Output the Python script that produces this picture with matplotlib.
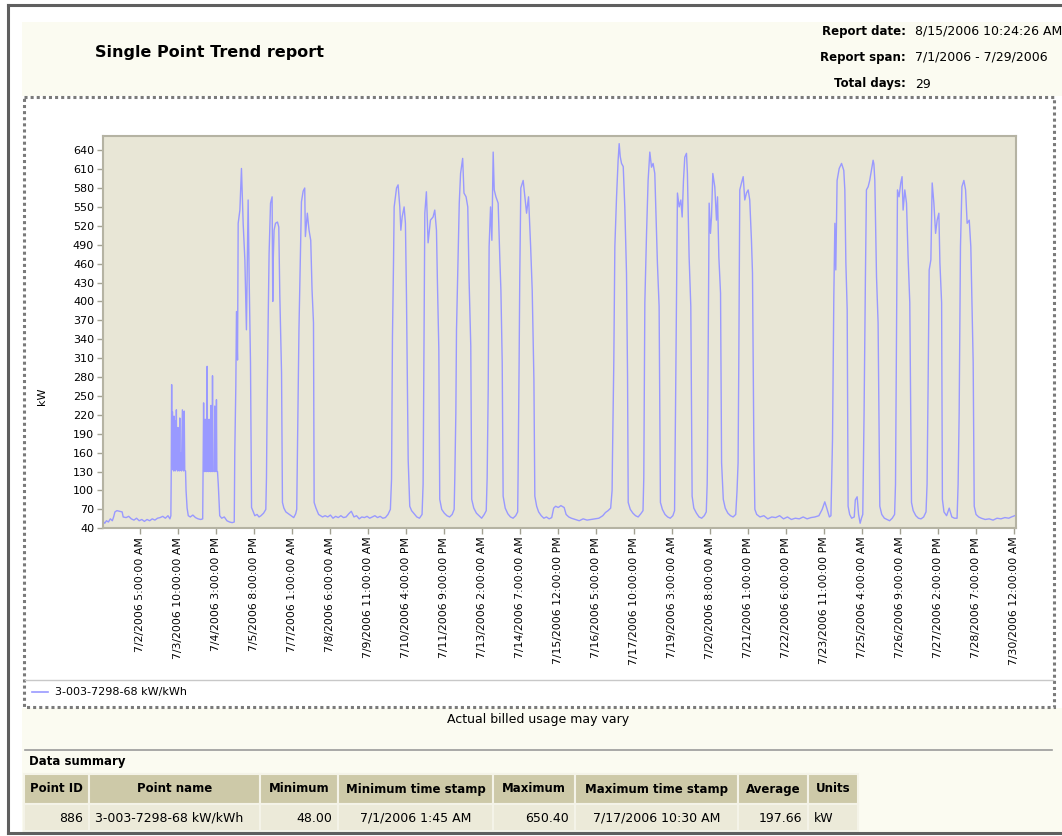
import numpy as np
import matplotlib
matplotlib.use('Agg')
import matplotlib.pyplot as plt
from matplotlib.patches import Rectangle
from datetime import datetime

# -------------------
# 1. DATA  (hours since 7/1/2006 0:00, kW) read off the trend
# -------------------
WEEK1 = [(0, 52), (1.75, 48), (3, 52), (4.5, 50), (6, 55), (7.5, 52), (8.5, 58), (9.5, 66), (11, 68), (13, 67),
         (15, 66), (15.8, 58), (18, 57), (20, 59), (22, 55), (24, 53), (26, 56), (28, 52), (30, 54), (32, 51),
         (34, 54), (36, 52), (38, 55), (40, 53), (42, 56), (44, 57), (46, 59), (48, 56), (50, 60), (51.5, 55),
         (52.2, 60), (52.5, 130), (52.8, 268), (53.1, 140), (53.4, 225), (53.7, 133), (54.0, 205), (54.3, 131),
         (54.6, 218), (54.9, 134), (55.2, 190), (55.5, 131), (55.8, 210), (56.1, 133), (56.4, 228), (56.7, 134),
         (57.0, 185), (57.3, 131), (57.6, 200), (57.9, 132), (58.2, 170), (58.6, 131), (59.0, 215), (59.3, 132),
         (59.8, 160), (60.3, 131), (61.0, 228), (61.4, 133), (62.0, 131), (62.4, 226), (62.8, 132), (63.4, 131),
         (63.8, 100), (64.6, 72), (65.5, 60), (67, 58), (69, 61), (71, 57), (73, 55), (75, 54), (76.5, 55),
         (76.8, 130), (77.2, 239), (77.5, 131), (78.1, 130), (78.4, 213), (78.7, 131), (79.6, 130), (79.9, 297),
         (80.2, 131), (81.1, 130), (81.4, 213), (81.7, 131), (82.5, 130), (82.8, 235), (83.1, 131), (83.7, 130),
         (84.0, 282), (84.3, 131), (85.4, 130), (85.7, 234), (86.0, 131), (86.7, 130), (87.0, 244), (87.3, 131),
         (87.8, 130), (88.4, 110), (89.5, 60), (91, 56), (93, 58), (95, 52), (97, 50), (99, 49), (100.6, 50),
         (101.0, 160), (101.8, 265), (102.3, 384), (103.1, 307), (103.6, 524), (104.9, 545), (106.1, 611),
         (107.4, 524), (108.7, 466), (109.9, 355), (111.2, 561), (112.0, 434), (113.0, 303), (113.8, 73),
         (116.3, 60), (118, 62), (119.5, 58), (121, 60), (123, 64), (124.7, 70),
         (125.2, 120), (125.7, 234), (126.5, 371), (127.2, 476), (128.3, 556), (129.5, 566), (130.0, 400),
         (130.3, 461), (131.0, 513), (132.1, 524), (133.6, 526), (134.6, 518), (135.4, 408), (136.7, 287),
         (137.4, 81), (138.5, 72), (140, 66), (142, 63), (144, 60), (146, 57), (147.5, 63), (148.3, 70),
         (148.6, 120), (149.3, 223), (150.0, 355), (151.1, 476), (151.9, 558), (153.2, 575), (154.4, 580),
         (154.9, 503), (156.4, 540), (157.7, 513), (159.0, 497), (160.0, 418), (161.1, 366), (161.6, 81),
         (163, 72), (165, 62), (168, 58)]

WEEK2 = [(170, 60), (172, 58), (174, 61), (176, 56), (178, 59), (180, 57), (182, 60), (184, 57), (186, 58),
         (188, 63), (190, 67), (192, 58), (194, 60), (196, 55), (198, 58), (200, 57), (202, 59), (204, 56),
         (206, 58), (208, 60), (210, 57), (212, 59), (214, 56), (216, 57), (218, 62), (219.8, 70),
         (220.7, 118), (221.4, 344), (222.2, 461), (222.7, 550), (224.5, 580), (225.7, 585), (227.0, 550),
         (227.8, 513), (228.8, 534), (230.3, 550), (231.3, 524), (232.1, 408), (233.4, 149), (234.6, 75),
         (236, 68), (238, 63), (240, 58), (242, 56), (244, 62),
         (244.8, 110), (245.3, 276), (246.1, 540), (247.3, 574), (248.6, 493), (250.4, 529), (252.4, 534),
         (253.7, 545), (255.0, 513), (255.7, 434), (256.8, 324), (257.5, 86), (259, 70), (261, 64), (263, 60),
         (265, 58), (267, 62), (268.5, 70),
         (269.0, 120), (269.8, 223), (270.3, 355), (271.6, 482), (272.4, 556), (273.4, 603), (275.0, 627),
         (276.0, 572), (277.6, 566), (278.9, 550), (279.9, 434), (281.2, 329), (281.9, 86), (283.5, 72),
         (285.5, 64), (287.5, 60), (289.5, 56), (291.5, 62), (293, 68),
         (293.7, 120), (294.5, 260), (295.2, 487), (296.3, 550), (297.3, 497), (298.3, 637), (299.1, 577),
         (300.4, 566), (302.1, 556), (303.4, 466), (304.2, 418), (305.2, 303), (305.9, 91), (307.5, 72),
         (309.5, 63), (311.5, 58), (313.5, 56), (315.5, 60), (317, 66),
         (317.3, 120), (318.1, 303), (318.6, 439), (319.4, 580), (321.2, 592), (322.5, 566), (323.8, 540),
         (325.3, 566), (326.9, 487), (328.1, 418), (329.4, 276), (330.1, 91), (331.5, 75), (333, 66), (335, 60)]

WEEK3 = [(337, 56), (339, 58), (341, 55), (343, 57), (344.5, 72), (346, 75), (348, 73), (350, 76), (352.5, 73),
         (354, 62), (356, 58), (358, 56), (361, 54), (364, 52), (367, 55), (370, 53), (373, 54), (376, 55),
         (379, 56), (382, 60), (384, 65), (386, 68), (388, 72),
         (389.1, 100), (389.4, 154), (390.4, 303), (391.2, 487), (392.5, 566), (393.7, 624), (394.5, 650.4),
         (395.3, 630), (396.3, 619), (397.6, 614), (398.8, 550), (400.1, 445), (400.9, 281), (401.4, 81),
         (403, 70), (405, 64), (407, 60), (409, 58), (411, 63), (412.7, 68),
         (413.3, 120), (413.6, 223), (414.1, 398), (415.4, 508), (416.6, 592), (417.9, 637), (419.2, 613),
         (420.4, 619), (421.7, 603), (422.7, 534), (423.7, 461), (425.0, 392), (426.0, 81), (427.5, 70),
         (429.5, 62), (431.5, 58), (433.5, 56), (435.5, 60), (436.8, 68),
         (437.0, 120), (437.5, 223), (438.3, 408), (439.0, 572), (440.3, 550), (441.6, 561), (442.6, 534),
         (443.6, 592), (444.6, 629), (445.9, 635), (446.6, 603), (447.9, 471), (449.2, 392), (450.2, 91),
         (451.5, 72), (453.5, 64), (455.5, 58), (457.5, 56), (459.5, 60), (461, 66),
         (461.7, 110), (461.9, 144), (462.4, 307), (463.2, 556), (464.2, 508), (465.0, 534), (466.0, 603),
         (467.5, 582), (468.8, 529), (469.6, 566), (470.6, 471), (471.9, 413), (472.7, 144), (474.0, 86),
         (475.5, 72), (477.5, 64), (479.5, 60), (481.5, 58), (483.5, 62),
         (484.5, 100), (485.3, 144), (485.8, 292), (486.6, 577), (487.9, 588), (489.2, 598), (490.4, 561),
         (491.7, 572), (493.0, 577), (494.2, 561), (495.5, 497), (496.3, 445), (497.3, 181), (498.1, 70),
         (499.5, 62), (502, 58)]

WEEK4 = [(505, 60), (508, 55), (511, 58), (514, 57), (517, 60), (520, 55), (523, 58), (526, 54), (529, 56),
         (532, 55), (535, 58), (538, 55), (541, 57), (544, 58), (547, 60), (549.5, 70), (551.5, 82), (553, 72),
         (555, 58), (556.2, 60),
         (556.6, 100), (557.4, 181), (558.4, 408), (559.2, 524), (559.9, 450), (560.9, 592), (562.5, 611),
         (564.3, 619), (566.0, 608), (566.8, 577), (567.6, 461), (568.6, 387), (569.3, 75), (570.5, 62),
         (572, 56), (574, 58), (574.8, 85), (576.2, 90), (577.3, 62), (578.5, 48), (579.5, 56), (580.5, 62),
         (580.8, 110), (581.5, 223), (582.5, 434), (583.3, 577), (584.6, 582), (585.8, 592), (587.1, 608),
         (588.4, 624), (589.0, 618), (589.7, 592), (591.0, 439), (592.2, 366), (593.5, 75), (595, 62),
         (597, 56), (599, 54), (601, 52), (603, 56), (604.8, 62),
         (605.5, 110), (606.2, 329), (607.0, 577), (608.2, 566), (609.5, 588), (610.5, 598), (611.3, 545),
         (612.6, 577), (613.9, 556), (615.1, 471), (616.4, 398), (617.7, 81), (619, 68), (621, 60), (623, 56),
         (625, 55), (627, 58), (628.8, 66),
         (629.6, 110), (630.4, 271), (631.2, 450), (632.5, 466), (633.5, 588), (634.8, 556), (636.1, 508),
         (637.3, 529), (638.6, 540), (639.4, 461), (640.7, 398), (641.3, 86), (642.5, 66), (644.5, 60),
         (646.5, 72), (648.5, 58), (650.5, 56), (652.5, 56),
         (653.3, 110), (654.1, 223), (655.1, 487), (656.2, 582), (657.7, 592), (659.0, 577), (660.2, 524),
         (661.8, 529), (663.0, 487), (664.8, 303), (665.6, 75), (667, 62), (669, 58), (671, 56), (674, 54),
         (677, 55), (680, 53), (683, 56), (686, 55), (689, 57), (692, 56), (694, 58), (696.5, 60)]

START = datetime(2006, 7, 1)
TICK_LABELS = ["7/2/2006 5:00:00 AM", "7/3/2006 10:00:00 AM", "7/4/2006 3:00:00 PM", "7/5/2006 8:00:00 PM",
               "7/7/2006 1:00:00 AM", "7/8/2006 6:00:00 AM", "7/9/2006 11:00:00 AM", "7/10/2006 4:00:00 PM",
               "7/11/2006 9:00:00 PM", "7/13/2006 2:00:00 AM", "7/14/2006 7:00:00 AM", "7/15/2006 12:00:00 PM",
               "7/16/2006 5:00:00 PM", "7/17/2006 10:00:00 PM", "7/19/2006 3:00:00 AM", "7/20/2006 8:00:00 AM",
               "7/21/2006 1:00:00 PM", "7/22/2006 6:00:00 PM", "7/23/2006 11:00:00 PM", "7/25/2006 4:00:00 AM",
               "7/26/2006 9:00:00 AM", "7/27/2006 2:00:00 PM", "7/28/2006 7:00:00 PM", "7/30/2006 12:00:00 AM"]
Y_TICKS = list(range(40, 641, 30))

SERIES_NAME = "3-003-7298-68 kW/kWh"
HEADER_LABELS = ["Report date:", "Report span:", "Total days:"]
HEADER_VALUES = ["8/15/2006 10:24:26 AM", "7/1/2006 - 7/29/2006", "29"]
SUMMARY_COLS = ["Point ID", "Point name", "Minimum", "Minimum time stamp", "Maximum",
                "Maximum time stamp", "Average", "Units"]
SUMMARY_ROW = ["886", "3-003-7298-68 kW/kWh", "48.00", "7/1/2006 1:45 AM", "650.40",
               "7/17/2006 10:30 AM", "197.66", "kW"]

# -------------------
# 2. FIGURE / PAGE
# -------------------
W, H = 1062, 836
LINE_COLOR = '#9999ff'

fig = plt.figure(figsize=(W / 100, H / 100), dpi=100)
fig.patch.set_facecolor('white')

# page layer in pixel coords (y down)
bg = fig.add_axes([0, 0, 1, 1])
bg.set_xlim(0, W)
bg.set_ylim(H, 0)
bg.axis('off')

# window frame
bg.plot([8, 8], [5, 833], color='#5f5f5f', lw=2.2)
bg.plot([8, W], [5, 5], color='#5f5f5f', lw=2.2)
bg.plot([8, W], [833, 833], color='#5f5f5f', lw=2.2)

# cream bands
bg.add_patch(Rectangle((22, 22), W - 22, 74, facecolor='#fbfbf1', edgecolor='none'))
bg.add_patch(Rectangle((22, 708), W - 22, 124, facecolor='#fbfbf1', edgecolor='none'))

# header
bg.text(95, 53, "Single Point Trend report", fontsize=11.5, fontweight='bold', va='center', ha='left')
for i, (lab, val) in enumerate(zip(HEADER_LABELS, HEADER_VALUES)):
    yy = 31 + i * 26.5
    bg.text(906, yy, lab, fontsize=8.5, fontweight='bold', ha='right', va='center')
    bg.text(915, yy, val, fontsize=9, ha='left', va='center')

# chart panel
bg.add_patch(Rectangle((24, 97), 1030, 610, facecolor='white', edgecolor='#7a7a7a', lw=2.2, ls=(0, (1, 1))))
bg.plot([25, 1053], [680, 680], color='#c8c8c8', lw=1)
bg.plot([32, 48], [692, 692], color=LINE_COLOR, lw=1.2)
bg.text(55, 692, SERIES_NAME, fontsize=8, va='center', ha='left')
bg.text(42, 396, "kW", fontsize=8, rotation=90, va='center', ha='center')

bg.text(538, 720, "Actual billed usage may vary", fontsize=9, va='center', ha='center')

# data summary table
bg.plot([25, 1052], [750, 750], color='#9a9a9a', lw=1.2)
bg.text(29, 762, "Data summary", fontsize=8.5, fontweight='bold', va='center', ha='left')
col_x = [24, 89, 260, 338, 493, 575, 738, 808, 858]
aligns = ['right', 'left', 'right', 'center', 'right', 'center', 'right', 'left']
for j in range(len(SUMMARY_COLS)):
    x0, x1 = col_x[j], col_x[j + 1]
    bg.add_patch(Rectangle((x0, 774), x1 - x0, 30, facecolor='#cdc9a8', edgecolor='#f4f3e8', lw=1.5))
    bg.add_patch(Rectangle((x0, 804), x1 - x0, 27, facecolor='#ecead9', edgecolor='#f4f3e8', lw=1.5))
    bg.text((x0 + x1) / 2, 789, SUMMARY_COLS[j], fontsize=8.5, fontweight='bold',
            ha='center', va='center')
    a = aligns[j]
    tx = {'right': x1 - 6, 'left': x0 + 6, 'center': (x0 + x1) / 2}[a]
    bg.text(tx, 818, SUMMARY_ROW[j], fontsize=9, ha=a, va='center')

# -------------------
# 3. TREND PLOT
# -------------------
pts = np.array(WEEK1 + WEEK2 + WEEK3 + WEEK4)
hours, kw = pts[:, 0], pts[:, 1]
tick_hours = [(datetime.strptime(t, "%m/%d/%Y %I:%M:%S %p") - START).total_seconds() / 3600
              for t in TICK_LABELS]

ax = fig.add_axes([102.5 / W, 1 - 528.3 / H, (1016 - 102.5) / W, (528.3 - 135.7) / H])
ax.set_facecolor('#e8e6d6')
ax.plot(hours, kw, color=LINE_COLOR, lw=1)
ax.set_xlim(0, 697.5)
ax.set_ylim(40, 663)
ax.set_xticks(tick_hours)
ax.set_xticklabels(TICK_LABELS, rotation=90, fontsize=7.8)
ax.set_yticks(Y_TICKS)
ax.set_yticklabels([str(v) for v in Y_TICKS], fontsize=8)
ax.tick_params(length=4, width=1, color='#a3a293', pad=2)
for s in ax.spines.values():
    s.set_color('#b5b3a3')
    s.set_linewidth(1.5)

fig.savefig('out.png', dpi=100)
